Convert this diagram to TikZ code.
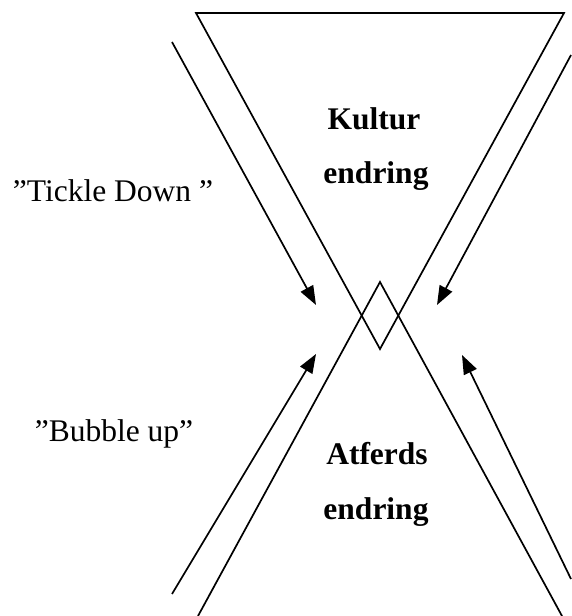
\documentclass[tikz,border=0pt]{standalone}
\usepackage{fontspec}
\setmainfont{Liberation Serif}
\usetikzlibrary{arrows.meta}
\begin{document}
\begin{tikzpicture}[x=1pt,y=1pt,
  edge/.style={line width=1.7pt, line cap=round, line join=miter},
  flow/.style={line width=1.7pt, -{Triangle[length=19pt,width=14pt]}},
  caption/.style={font=\fontsize{31.5}{36}\selectfont, anchor=base, inner sep=0pt},
  title/.style={font=\fontsize{31.5}{36}\selectfont\bfseries, anchor=base, inner sep=0pt}]
\useasboundingbox (0,0) rectangle (572,616);

% upper (inverted) triangle
\coordinate (tl) at (196,603);
\coordinate (tr) at (564,603);
\coordinate (tb) at (380,267);
\draw[edge] (tl) -- (tr) -- (tb) -- cycle;

% lower triangle, open towards the bottom edge
\coordinate (bt) at (380,334);
\coordinate (bl) at (198,0);
\coordinate (br) at (562,0);
\draw[edge] (bl) -- (bt) -- (br);

% arrows towards the centre
\coordinate (a1s) at (172,574); \coordinate (a1e) at (316,311);
\coordinate (a2s) at (571,561); \coordinate (a2e) at (437,311);
\coordinate (a3s) at (172,22);  \coordinate (a3e) at (316,262);
\coordinate (a4s) at (571,37);  \coordinate (a4e) at (462,261);
\draw[flow] (a1s) -- (a1e);
\draw[flow] (a2s) -- (a2e);
\draw[flow] (a3s) -- (a3e);
\draw[flow] (a4s) -- (a4e);

% labels
\node[title] (kultur) at (374,486) {Kultur};
\node[title] (kendring) at (376,432) {endring};
\node[title] (atferds) at (377,151) {Atferds};
\node[title] (aendring) at (376,96) {endring};
\node[caption] (tickle) at (113,414) {”Tickle Down ”};
\node[caption] (bubble) at (114,174) {”Bubble up”};
\end{tikzpicture}
\end{document}
